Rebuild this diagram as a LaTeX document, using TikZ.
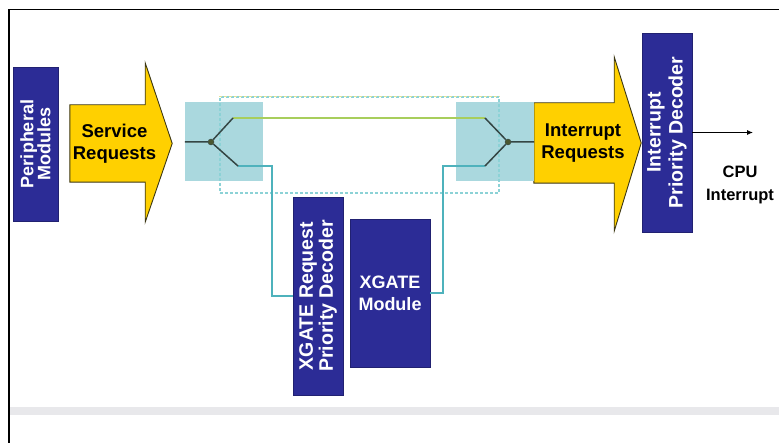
\documentclass[tikz,border=0pt]{standalone}
\usepackage{fontspec}
\setmainfont{Liberation Sans}
\usepackage{tikz}
\usetikzlibrary{positioning,calc,arrows.meta}

\definecolor{modblue}{RGB}{44,44,150}
\definecolor{reqyellow}{RGB}{255,208,0}
\definecolor{reqedge}{RGB}{60,55,20}
\definecolor{muxteal}{RGB}{170,216,222}
\definecolor{wireteal}{RGB}{78,178,188}
\definecolor{wiregreen}{RGB}{168,206,92}
\definecolor{branchgray}{RGB}{52,70,68}
\definecolor{dashcyan}{RGB}{140,210,214}
\definecolor{dashyellow}{RGB}{226,226,150}
\definecolor{bargray}{RGB}{232,232,235}

\tikzset{
    modbox/.style={fill=modblue, draw=modblue!75!black, text=white, align=center, inner sep=0pt, font=\bfseries\fontsize{19.5}{20}\selectfont},
    reqbody/.style={inner sep=0pt},
    reqtext/.style={align=center, inner sep=0pt, font=\bfseries\fontsize{18.5}{22}\selectfont},
    reqshape/.style={fill=reqyellow, draw=reqedge, line width=0.9pt, line join=miter},
    muxarea/.style={fill=muxteal, inner sep=0pt, minimum width=78pt, minimum height=79pt},
    xgdomain/.style={draw=dashcyan, line width=1.2pt, dash pattern=on 3pt off 2pt, inner sep=0pt},
    swdot/.style={circle, fill=branchgray!70!olive, draw=branchgray, inner sep=0pt, minimum size=6pt},
    branch/.style={draw=branchgray, line width=1.5pt},
    wire/.style={draw=wireteal, line width=1.2pt},
}

\begin{document}
\begin{tikzpicture}[x=1pt, y=-1pt]
    \useasboundingbox (0,0) rectangle (779,443);
    \draw [line width=1.3pt] (9,443) -- (9,9.5) -- (779,9.5);
    \fill [bargray] (10,407) rectangle (779,415);

    \node [modbox, rotate=90, minimum width=154pt, minimum height=45pt, font=\bfseries\fontsize{18}{17}\selectfont] (periph) at (35.5,144) {Peripheral\\Modules};

    \node [reqbody, minimum width=75pt, minimum height=77pt] (srv) at (107.5,143.5) {};
    \draw [reqshape] (srv.north west) -- (srv.north east) -- ++(0,-42) -- ($(srv.east)+(27,0)$) -- ($(srv.south east)+(0,40)$) -- (srv.south east) -- (srv.south west) -- cycle;
    \node [reqtext] (srvtxt) at ($(srv.center)+(7,0)$) {Service\\Requests};

    \node [reqbody, minimum width=80pt, minimum height=80pt] (irq) at (574,143) {};
    \draw [reqshape] (irq.north west) -- (irq.north east) -- ++(0,-46) -- ($(irq.east)+(27,0)$) -- ($(irq.south east)+(0,48)$) -- (irq.south east) -- (irq.south west) -- cycle;
    \node [reqtext] (irqtxt) at ($(irq.center)+(9,0)$) {Interrupt\\Requests};

    \node [muxarea] (lmux) at (224,142) {};
    \node [muxarea] (rmux) at (495,142) {};
    \node [xgdomain, minimum width=279pt, minimum height=96pt] (xgdom) at (359.5,145) {};
    \draw [dashyellow, line width=1.2pt, dash pattern=on 3pt off 2pt] (xgdom.north west) -- (xgdom.north east);

    \node [swdot] (lsw) at (211,142) {};
    \node [swdot] (rsw) at (508,142) {};
    \coordinate (lup) at (233,118);
    \coordinate (ldn) at (238,166);
    \coordinate (rup) at (485,118);
    \coordinate (rdn) at (485,166);
    \coordinate (lbend) at (272,166);
    \coordinate (rbend) at (443,166);

    \node [modbox, rotate=90, minimum width=198pt, minimum height=50pt] (xreq) at (318,296) {XGATE Request\\Priority Decoder};
    \node [modbox, minimum width=80pt, minimum height=148pt, font=\bfseries\fontsize{18}{22}\selectfont] (xmod) at (390,293) {XGATE\\Module};

    \draw [wire] (ldn) -- (lbend) |- (xreq.north);
    \draw [wire] (xmod.east) -| (rbend) -- (rdn);
    \draw [wiregreen, line width=1.3pt] (lup) -- (rup);
    \draw [branch] (lmux.west) -- (lsw) -- (lup);
    \draw [branch] (lsw) -- (ldn);
    \draw [branch] (rup) -- (rsw) -- (rmux.east);
    \draw [branch] (rdn) -- (rsw);

    \node [modbox, rotate=90, minimum width=199pt, minimum height=50pt, font=\bfseries\fontsize{19.5}{22}\selectfont] (ipd) at (667,132.5) {Interrupt\\Priority Decoder};

    \coordinate (cpuend) at (753,132.5);
    \draw [-{Latex[length=6pt,width=5pt]}, line width=0.9pt] (ipd.south) -- (cpuend);
    \node [below=33pt of cpuend, xshift=-13pt, inner sep=0pt, align=center, font=\bfseries\fontsize{16.5}{23}\selectfont] (cpulbl) {CPU\\Interrupt};
\end{tikzpicture}
\end{document}
